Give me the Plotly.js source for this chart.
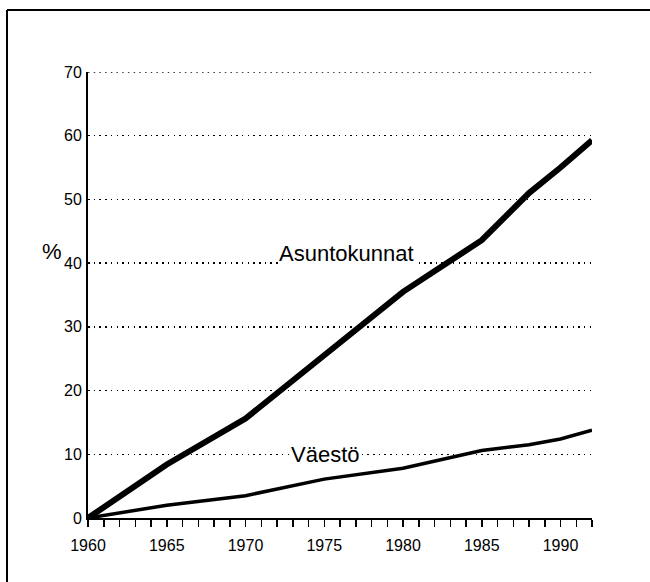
<!DOCTYPE html>
<html>
<head>
<meta charset="utf-8">
<script src="https://cdn.plot.ly/plotly-3.0.1.min.js"></script>
<style>html,body{margin:0;padding:0;background:#fff;}#chart{width:650px;height:582px;}</style>
</head>
<body>
<div id="chart"></div>
<script>
// Data
const years = [1960, 1965, 1970, 1975, 1980, 1985, 1988, 1990, 1992];
const asuntokunnat = [0, 8.4, 15.6, 25.5, 35.5, 43.6, 51.0, 55.0, 59.3];
const vaesto = [0, 2.0, 3.5, 6.1, 7.8, 10.6, 11.5, 12.4, 13.8];
const xTickVals = [1960, 1965, 1970, 1975, 1980, 1985, 1990];
const yTickVals = [0, 10, 20, 30, 40, 50, 60, 70];
const seriesNames = ["Asuntokunnat", "Väestö"];
const yUnit = "%";

const FONT = "Liberation Sans, Arial, Helvetica, sans-serif";
const GRID_DASH = "1.5px,4.2px";

const traces = [
  {x: years, y: asuntokunnat, name: seriesNames[0], mode: "lines", type: "scatter",
   line: {color: "#000", width: 6}},
  {x: years, y: vaesto, name: seriesNames[1], mode: "lines", type: "scatter",
   line: {color: "#000", width: 3.5}}
];

const yMax = yTickVals[yTickVals.length - 1];

const layout = {
  width: 650, height: 582,
  margin: {l: 88, r: 58, t: 72, b: 64},
  paper_bgcolor: "#fff", plot_bgcolor: "#fff",
  showlegend: false,
  font: {family: FONT, color: "#000", size: 16},
  xaxis: {
    range: [1960, 1992], tickvals: xTickVals, ticktext: xTickVals.map(String),
    showgrid: false, zeroline: false,
    showline: true, linecolor: "#000", linewidth: 2,
    ticks: "outside", ticklen: 7, tickwidth: 1.5, tickcolor: "#000",
    minor: {dtick: 1, tick0: 1960, ticks: "outside", ticklen: 7, tickwidth: 1.5, tickcolor: "#000", showgrid: false},
    tickfont: {size: 16, family: FONT},
    ticklabelstandoff: 5
  },
  yaxis: {
    range: [0, yMax], tickvals: yTickVals, ticktext: yTickVals.map(String),
    showgrid: true, gridcolor: "#000", gridwidth: 1.5, griddash: GRID_DASH,
    zeroline: false,
    showline: true, linecolor: "#000", linewidth: 2,
    ticks: "", tickfont: {size: 16, family: FONT},
    ticklabelstandoff: 1
  },
  annotations: [
    {xref: "x", yref: "y", x: 1972.06, y: 41.5, xanchor: "left", yanchor: "middle",
     text: seriesNames[0], showarrow: false, bgcolor: "#fff", borderpad: 0,
     font: {size: 22, family: FONT, color: "#000"}},
    {xref: "x", yref: "y", x: 1972.83, y: 10.0, xanchor: "left", yanchor: "middle",
     text: seriesNames[1], showarrow: false, bgcolor: "#fff", borderpad: 0,
     font: {size: 22, family: FONT, color: "#000"}},
    {xref: "paper", yref: "paper", x: (64 - 88) / 504, y: (518 - 251) / 446, xanchor: "right", yanchor: "middle",
     text: yUnit, showarrow: false,
     font: {size: 22, family: FONT, color: "#000"}}
  ],
  shapes: [
    // top gridline (Plotly omits the grid line on the plot edge)
    {type: "line", xref: "paper", yref: "y", x0: 0, x1: 1, y0: yMax, y1: yMax,
     line: {color: "#000", width: 1.5, dash: GRID_DASH}},
    // partial frame (top and left edges)
    {type: "line", xref: "paper", yref: "paper", x0: (7 - 88) / 504, x1: (650 - 88) / 504,
     y0: (518 - 10) / 446, y1: (518 - 10) / 446, line: {color: "#000", width: 2}},
    {type: "line", xref: "paper", yref: "paper", x0: (7 - 88) / 504, x1: (7 - 88) / 504,
     y0: (518 - 10) / 446, y1: (518 - 582) / 446, line: {color: "#000", width: 2}}
  ]
};

Plotly.newPlot("chart", traces, layout, {displayModeBar: false, staticPlot: true});
</script>
</body>
</html>
